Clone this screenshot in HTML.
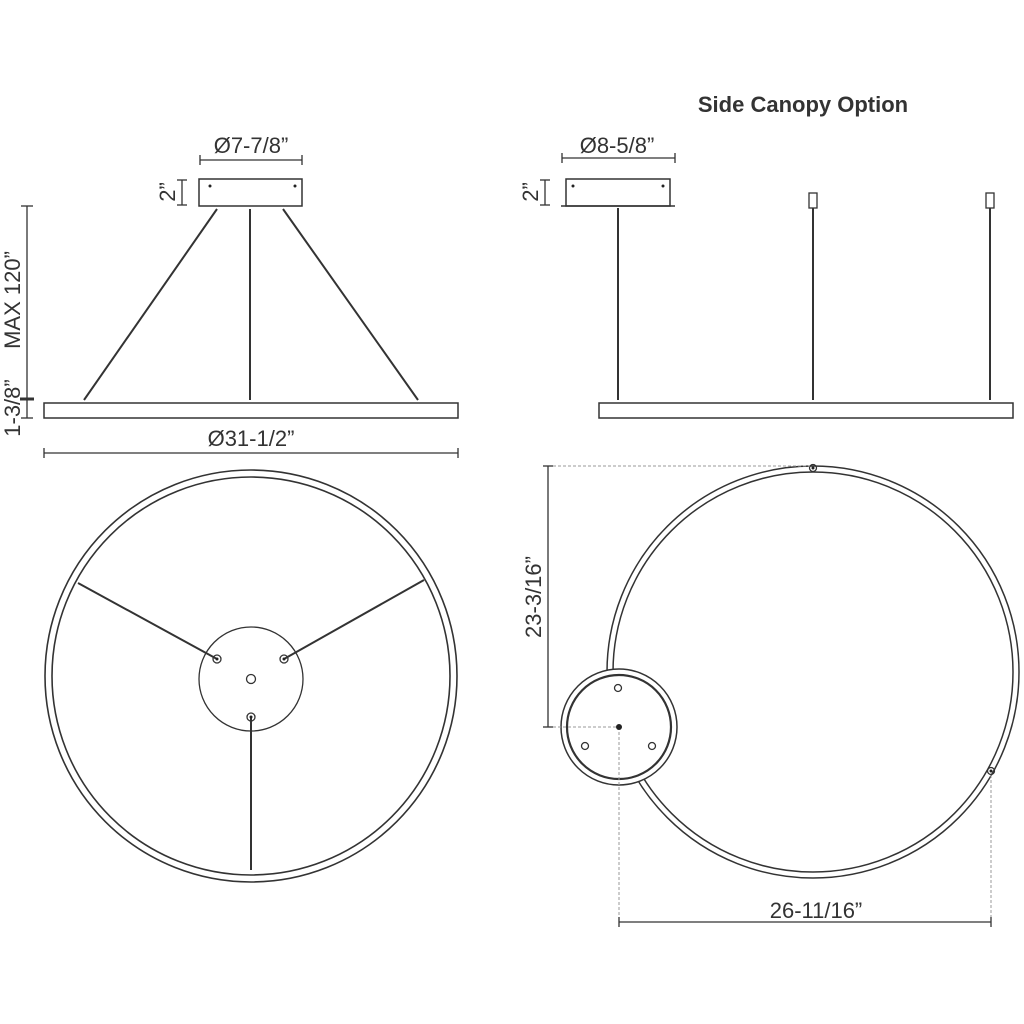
<!DOCTYPE html>
<html><head><style>body{margin:0;background:#fff}svg{display:block}text{font-family:"Liberation Sans",Arial,sans-serif;fill:#333}</style></head>
<body>
<svg width="1024" height="1024" viewBox="0 0 1024 1024" xmlns="http://www.w3.org/2000/svg">
<g stroke="#333" fill="none" stroke-width="1.3">
<line x1="200" y1="160" x2="302" y2="160"/><line x1="200" y1="155" x2="200" y2="165"/><line x1="302" y1="155" x2="302" y2="165"/>
<rect x="199" y="179" width="103" height="27" stroke-width="1.5"/>
<line x1="182" y1="180" x2="182" y2="205"/><line x1="177" y1="180" x2="187" y2="180"/><line x1="177" y1="205" x2="187" y2="205"/>
<line x1="217" y1="209" x2="84" y2="400" stroke-width="2"/>
<line x1="250" y1="209" x2="250" y2="400" stroke-width="2"/>
<line x1="283" y1="209" x2="418" y2="400" stroke-width="2"/>
<rect x="44" y="403" width="414" height="15" stroke-width="1.5"/>
<line x1="27" y1="206" x2="27" y2="418"/><line x1="21" y1="206" x2="33" y2="206"/><line x1="20" y1="399" x2="34" y2="399" stroke-width="3"/><line x1="21" y1="418" x2="33" y2="418"/>
<line x1="44" y1="453" x2="458" y2="453"/><line x1="44" y1="448" x2="44" y2="458"/><line x1="458" y1="448" x2="458" y2="458"/>
<line x1="562" y1="158" x2="675" y2="158"/><line x1="562" y1="153" x2="562" y2="163"/><line x1="675" y1="153" x2="675" y2="163"/>
<rect x="566" y="179" width="104" height="27" stroke-width="1.5"/>
<line x1="561" y1="206" x2="675" y2="206" stroke-width="1.5"/>
<line x1="545" y1="180" x2="545" y2="205"/><line x1="540" y1="180" x2="550" y2="180"/><line x1="540" y1="205" x2="550" y2="205"/>
<line x1="618" y1="208" x2="618" y2="400" stroke-width="2"/>
<line x1="813" y1="208" x2="813" y2="400" stroke-width="2"/>
<line x1="990" y1="208" x2="990" y2="400" stroke-width="2"/>
<rect x="809" y="193" width="8" height="15"/><rect x="986" y="193" width="8" height="15"/>
<rect x="599" y="403" width="414" height="15" stroke-width="1.5"/>
<circle cx="251" cy="676" r="206" stroke-width="1.6"/>
<circle cx="251" cy="676" r="199" stroke-width="1.6"/>
<circle cx="251" cy="679" r="52"/>
<line x1="217" y1="659" x2="78" y2="583" stroke-width="2"/>
<line x1="284" y1="659" x2="424" y2="580" stroke-width="2"/>
<line x1="251" y1="717" x2="251" y2="870" stroke-width="2"/>
<circle cx="217" cy="659" r="4"/><circle cx="284" cy="659" r="4"/><circle cx="251" cy="717" r="4"/><circle cx="251" cy="679" r="4.5"/>
<circle cx="813" cy="672" r="206" stroke-width="1.5"/>
<circle cx="813" cy="672" r="200" stroke-width="1.5"/>
<circle cx="619" cy="727" r="58" fill="#fff" stroke-width="1.5"/>
<circle cx="619" cy="727" r="52" stroke-width="2.2"/>
<circle cx="618" cy="688" r="3.5"/><circle cx="585" cy="746" r="3.5"/><circle cx="652" cy="746" r="3.5"/>
<circle cx="813" cy="468" r="3.5"/><circle cx="991" cy="771" r="3.5"/>
<g stroke="#999" stroke-dasharray="3,2" stroke-width="1">
<line x1="548" y1="466" x2="810" y2="466"/><line x1="548" y1="727" x2="619" y2="727"/>
<line x1="619" y1="727" x2="619" y2="925"/><line x1="991" y1="775" x2="991" y2="925"/>
</g>
<line x1="548" y1="466" x2="548" y2="727"/><line x1="543" y1="466" x2="553" y2="466"/><line x1="543" y1="727" x2="553" y2="727"/>
<line x1="619" y1="922" x2="991" y2="922"/><line x1="619" y1="917" x2="619" y2="927"/><line x1="991" y1="917" x2="991" y2="927"/>
</g>
<g fill="#222">
<circle cx="210" cy="186" r="1.5"/><circle cx="295" cy="186" r="1.5"/>
<circle cx="573" cy="186" r="1.5"/><circle cx="663" cy="186" r="1.5"/>
<circle cx="619" cy="727" r="3"/><circle cx="813" cy="468" r="1.5"/><circle cx="991" cy="771" r="1.5"/>
<circle cx="217" cy="659" r="1.5"/><circle cx="284" cy="659" r="1.5"/><circle cx="251" cy="717" r="1.5"/>
</g>
<text x="803" y="112" font-size="22" font-weight="bold" text-anchor="middle" fill="#222">Side Canopy Option</text>
<text x="251" y="153" font-size="22" text-anchor="middle">Ø7-7/8”</text>
<text x="617" y="153" font-size="22" text-anchor="middle">Ø8-5/8”</text>
<text x="251" y="446" font-size="22" text-anchor="middle">Ø31-1/2”</text>
<text x="816" y="918" font-size="22" text-anchor="middle">26-11/16”</text>
<text transform="translate(175,192) rotate(-90)" font-size="22" text-anchor="middle">2”</text>
<text transform="translate(538,192) rotate(-90)" font-size="22" text-anchor="middle">2”</text>
<text transform="translate(20,300) rotate(-90)" font-size="22" text-anchor="middle">MAX 120”</text>
<text transform="translate(20,408) rotate(-90)" font-size="22" text-anchor="middle">1-3/8”</text>
<text transform="translate(541,597) rotate(-90)" font-size="22" text-anchor="middle">23-3/16”</text>
</svg>
</body></html>
